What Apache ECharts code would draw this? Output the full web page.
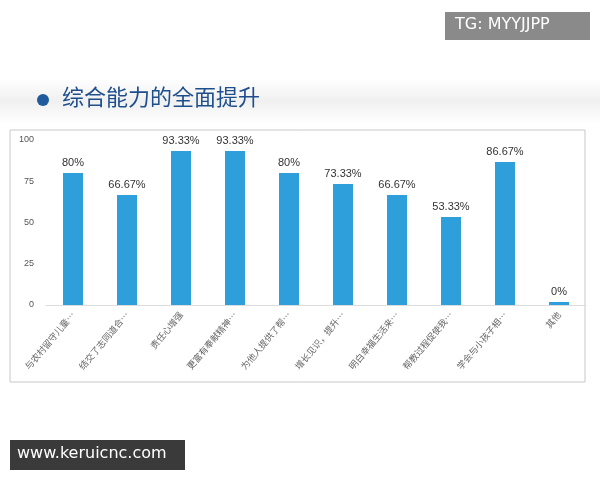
<!DOCTYPE html><html><head><meta charset="utf-8"><script src="https://cdn.jsdelivr.net/npm/echarts@6/dist/echarts.min.js"></script>
<style>html,body{margin:0;padding:0;background:#fff}#c{width:600px;height:480px}</style></head><body><div id="c"></div><script>
const categories=['与农村留守儿童…','结交了志同道合…','责任心增强','更富有奉献精神…','为他人提供了帮…','增长见识，提升…','明白幸福生活来…','帮教过程促使我…','学会与小孩子相…','其他'];
const values=[80,66.67,93.33,93.33,80,73.33,66.67,53.33,86.67,0];
const labels=['80%','66.67%','93.33%','93.33%','80%','73.33%','66.67%','53.33%','86.67%','0%'];
const yTicks=[0,25,50,75,100];
const f='"Noto Sans CJK SC","Noto Sans",sans-serif';
const ch=echarts.init(document.getElementById('c'));
ch.setOption({
graphic:[
{type:'rect',shape:{x:0,y:78,width:600,height:46},style:{fill:new echarts.graphic.LinearGradient(0,0,0,1,[{offset:0,color:'#ffffff'},{offset:0.5,color:'#f0f0f0'},{offset:1,color:'#ffffff'}])},z:-1},
{type:'circle',shape:{cx:43,cy:100,r:6},style:{fill:'#1f5a9c'}},
{type:'text',left:62,top:86,style:{text:'综合能力的全面提升',font:'22px '+f,fill:'#1f4e8c'}},
{type:'rect',shape:{x:10,y:130,width:575,height:252},style:{fill:'none',stroke:'#c8c8c8',lineWidth:1},z:-1},
{type:'rect',shape:{x:445,y:12,width:145,height:28},style:{fill:'#8a8a8a'}},
{type:'text',x:455,y:17,style:{text:'TG: MYYJJPP',font:'16px "DejaVu Sans",sans-serif',fill:'#fff'}},
{type:'rect',shape:{x:10,y:440,width:175,height:30},style:{fill:'#3a3a3a'}},
{type:'text',x:17,y:446,style:{text:'www.keruicnc.com',font:'16px "DejaVu Sans",sans-serif',fill:'#fff'}}
],
grid:{left:46,right:14,top:140,bottom:175},
xAxis:{type:'category',data:categories,axisLine:{lineStyle:{color:'#ddd'}},axisTick:{lineStyle:{color:'#ddd'}},
axisLabel:{rotate:50,interval:0,fontSize:9,color:'#666',fontFamily:f}},
yAxis:{type:'value',min:0,max:100,interval:25,splitLine:{show:false},axisLine:{show:false},axisTick:{show:false},
axisLabel:{fontSize:9,color:'#555',margin:12,formatter:v=>yTicks.includes(v)?String(v):''}},
series:[{type:'bar',data:values,barWidth:20,barMinHeight:3,itemStyle:{color:'#2e9fdb'},
label:{show:true,position:'top',fontSize:11,color:'#333',formatter:p=>labels[p.dataIndex]}}]
});
</script></body></html>
